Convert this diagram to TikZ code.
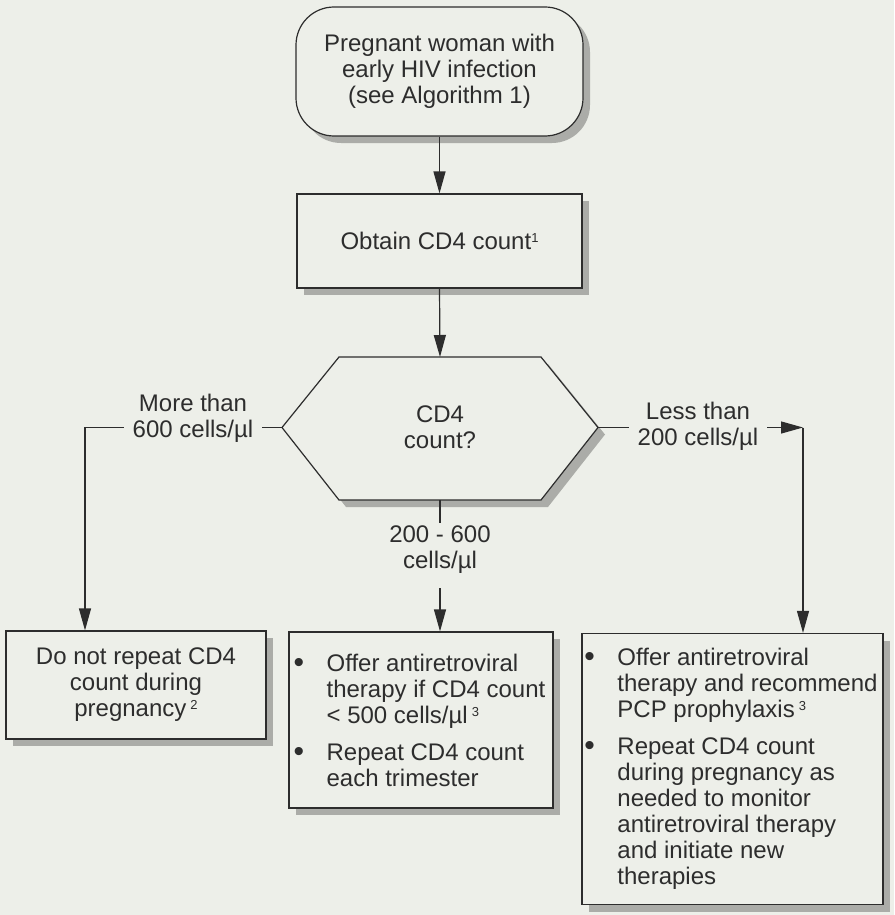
\documentclass[tikz,border=0pt]{standalone}
\usepackage{fontspec}
\setmainfont{Liberation Sans}
\usetikzlibrary{arrows.meta,shadows,calc}
\definecolor{bgc}{RGB}{237,239,233}
\definecolor{ink}{RGB}{45,45,45}
\newcommand{\sups}[1]{\raisebox{7pt}{\fontsize{13}{13}\selectfont #1}}
\newcommand{\bul}{\makebox[30pt][l]{\hspace*{-3pt}\fontsize{30}{26}\selectfont\raisebox{-1pt}{•}}}
\newcommand{\ind}{\hspace*{30pt}}
\begin{document}
\begin{tikzpicture}[x=1pt,y=-1pt,
  every node/.style={text=ink, font=\fontsize{24}{26}\selectfont},
  shad/.style={drop shadow={shadow xshift=7pt, shadow yshift=-7pt, opacity=0.28, fill=black}},
  box/.style={draw=ink, line width=1.2pt, fill=bgc, shad, inner sep=0pt},
  conn/.style={draw=ink, line width=1.2pt},
  arr/.style={conn, -{Triangle[length=22pt,width=12pt]}},
  lbl/.style={fill=bgc, inner xsep=9pt, inner ysep=2pt, align=center}]
\fill[bgc] (0,0) rectangle (894,915);
\useasboundingbox (0,0) rectangle (894,915);

% nodes
\node[box, rounded corners=38pt, minimum width=287pt, minimum height=129pt, align=center]
  (start) at (439.5,71.5) {Pregnant woman with\\early HIV infection\\(see Algorithm 1)};
\node[box, minimum width=285pt, minimum height=94pt]
  (obtain) at (439.5,241) {Obtain CD4 count\sups{1}};

\coordinate (hexT) at (440,357);
\coordinate (hexB) at (440,500);
\coordinate (hexL) at (282,427.5);
\coordinate (hexR) at (598,427.5);
\draw[box] (339,357) -- (541,357) -- (hexR) -- (541,500) -- (339,500) -- (hexL) -- cycle;
\node[align=center] (hex) at (440,427.5) {CD4\\count?};

\node[box, minimum width=260pt, minimum height=108pt, align=center]
  (lbox) at (136,685) {Do not repeat CD4\\count during\\pregnancy\,\sups{2}};
\node[box, minimum width=264pt, minimum height=176pt, align=left]
  (mbox) at (421,720) {\bul Offer antiretroviral\\ \ind therapy if CD4 count\\ \ind < 500 cells/µl\,\sups{3}\\[11pt]
   \bul Repeat CD4 count\\ \ind each trimester};
\node[box, minimum width=301pt, minimum height=271pt, align=left]
  (rbox) at (732.5,769) {\bul Offer antiretroviral\\ \ind therapy and recommend\\ \ind PCP prophylaxis\,\sups{3}\\[11pt]
   \bul Repeat CD4 count\\ \ind during pregnancy as\\ \ind needed to monitor\\ \ind antiretroviral therapy\\ \ind and initiate new\\ \ind therapies};

% connectors
\coordinate (cL) at (85,427.5);
\coordinate (cR) at (803,427.5);
\draw[arr] (start.south) -- (obtain.north);
\draw[arr] (obtain.south) -- (hexT);
\draw[arr] (hexL) -- (cL) -- (cL |- lbox.north);
\draw[arr] (hexR) -- (cR);
\draw[arr] (cR) -- (cR |- rbox.north);

\node[lbl] (lleft) at (193,418) {More than\\600 cells/µl};
\node[lbl] (lright) at (698,426) {Less than\\200 cells/µl};
\node[align=center, inner sep=0pt] (lmid) at (440,550) {200 - 600\\cells/µl};
\draw[conn] (hexB) -- ([yshift=3pt]lmid.north);
\draw[arr] ([yshift=-14pt]lmid.south) -- (mbox.north -| hexB);
\end{tikzpicture}
\end{document}
